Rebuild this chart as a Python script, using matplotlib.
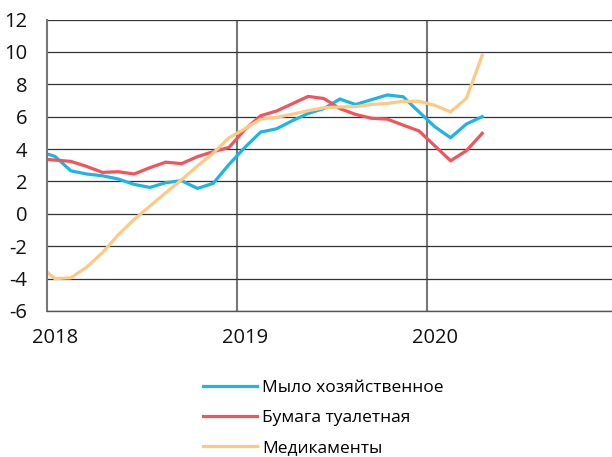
import matplotlib
matplotlib.use('Agg')
import matplotlib.pyplot as plt
import pandas as pd

plt.rcParams['font.family'] = ['Open Sans', 'DejaVu Sans']

# monthly data, Dec 2017 .. Apr 2020 (first point is clipped by the axis)
dates = pd.date_range('2017-12-01', '2020-04-01', freq='MS')
soap = [3.85, 3.55, 2.66, 2.46, 2.35, 2.15, 1.82, 1.63, 1.92, 2.05, 1.57, 1.88, 3.05,
        4.1, 5.05, 5.25, 5.75, 6.2, 6.5, 7.09, 6.75, 7.05, 7.34, 7.23, 6.3,
        5.38, 4.7, 5.55, 6.0]
paper = [3.4, 3.32, 3.24, 2.93, 2.56, 2.6, 2.46, 2.85, 3.19, 3.1, 3.53, 3.84, 4.1,
         5.2, 6.06, 6.35, 6.8, 7.25, 7.12, 6.5, 6.14, 5.9, 5.85, 5.48, 5.12,
         4.2, 3.28, 3.9, 4.97]
meds = [-3.2, -4.0, -3.95, -3.3, -2.4, -1.3, -0.35, 0.48, 1.3, 2.1, 2.95, 3.75, 4.7,
        5.25, 5.85, 5.96, 6.15, 6.37, 6.55, 6.6, 6.62, 6.75, 6.82, 6.95, 6.95,
        6.7, 6.3, 7.13, 9.8]

labels = ['Мыло хозяйственное', 'Бумага туалетная', 'Медикаменты']
colors = ['#1cb5e6', '#f2545b', '#fdc985']
years = ['2018', '2019', '2020']

# mid-month position, in months since Jan 2018
x = [(d.year - 2018) * 12 + d.month - 1 + 0.5 for d in dates]

fig = plt.figure(figsize=(6.12, 4.57), dpi=100)
ax = fig.add_axes([0.0768, 0.3195, 0.931, 0.6378])

for series, lab, col in zip([soap, paper, meds], labels, colors):
    ax.plot(x, series, color=col, linewidth=2.3, label=lab, solid_joinstyle='miter')

ax.set_xlim(0, 36)
ax.set_ylim(-6, 12)
ax.set_yticks(range(-6, 13, 2))
ax.set_yticklabels([str(v) for v in range(-6, 13, 2)])
ax.set_xticks([0.5, 12.5, 24.5])
ax.set_xticklabels(years)
tick_font = ['Liberation Sans Narrow', 'Open Sans', 'DejaVu Sans']
for t in ax.get_xticklabels() + ax.get_yticklabels():
    t.set_family(tick_font)
ax.tick_params(length=0, labelsize=14.5, colors='#111111')
ax.tick_params(axis='y', pad=14)
ax.tick_params(axis='x', pad=12)

ax.grid(axis='y', color='#333333', linewidth=0.9)
for xv in [12, 24]:
    ax.axvline(xv, color='#777777', linewidth=1.5, zorder=0.5)
ax.set_axisbelow(True)

for s in ['top', 'right']:
    ax.spines[s].set_visible(False)
ax.spines['left'].set_color('#777777')
ax.spines['left'].set_linewidth(1.5)
ax.spines['bottom'].set_color('#555555')
ax.spines['bottom'].set_linewidth(1.0)

fig.legend(loc='upper left', bbox_to_anchor=(0.332, 0.168), frameon=False,
           fontsize=12.5, handlelength=3.1, handletextpad=0.3, labelspacing=0.8,
           borderaxespad=0, borderpad=0)

fig.savefig('out.png', dpi=100)
